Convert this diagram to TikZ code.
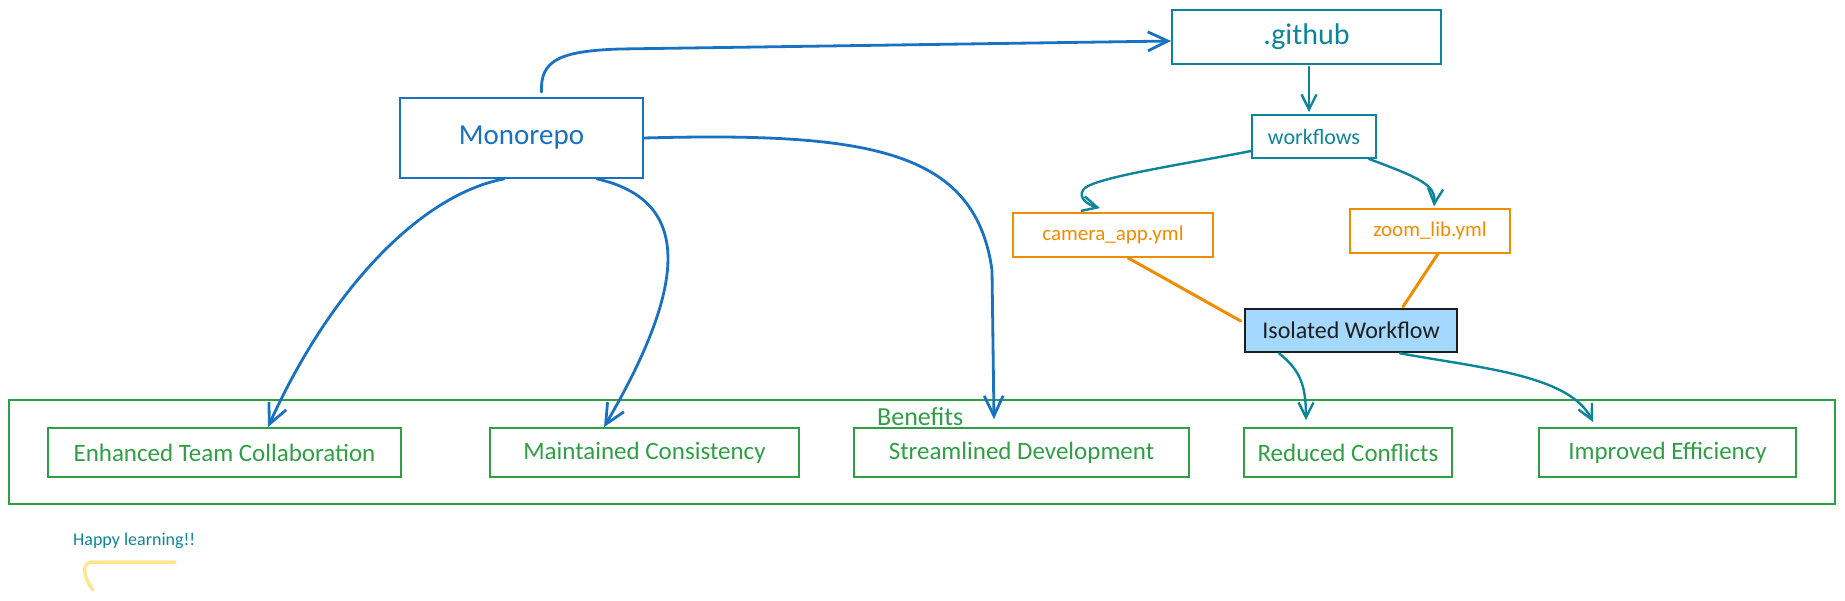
\documentclass[tikz,border=0pt]{standalone}
\usepackage{fontspec}
\setmainfont{Carlito}
\usetikzlibrary{arrows.meta}
\definecolor{cblue}{HTML}{1971C2}
\definecolor{cteal}{HTML}{0C8599}
\definecolor{corange}{HTML}{F08C00}
\definecolor{cgreen}{HTML}{2F9E44}
\definecolor{cfill}{HTML}{A5D8FF}
\definecolor{cblack}{HTML}{1E1E1E}
\definecolor{cyellow}{HTML}{FFE58F}
\newcommand{\fsz}[1]{\fontsize{#1}{#1}\selectfont}
\begin{document}
\begin{tikzpicture}[x=1pt,y=-1pt,
  box/.style={draw, rectangle, line width=1.8pt, inner sep=0pt},
  bluebox/.style={box, draw=cblue, text=cblue},
  tealbox/.style={box, draw=cteal, text=cteal},
  orangebox/.style={box, draw=corange, text=corange},
  greenbox/.style={box, draw=cgreen, text=cgreen, minimum height=49pt, font=\fsz{25}},
  bluearrow/.style={draw=cblue, line width=2.8pt, line cap=round, -{Straight Barb[length=20pt,width=19pt,line width=2.8pt]}},
  tealarrow/.style={draw=cteal, line width=2.4pt, line cap=round, -{Straight Barb[length=15pt,width=15pt,line width=2.4pt]}},
  orangeline/.style={draw=corange, line width=3pt, line cap=round}
]
\useasboundingbox (0,0) rectangle (1845,601);

% nodes
\node[bluebox, minimum width=243pt, minimum height=80pt, font=\fsz{29}] (mono) at (521.5,138) {Monorepo};
\node[tealbox, minimum width=269pt, minimum height=54pt, font=\fsz{30}] (github) at (1306.5,37) {.github};
\node[tealbox, minimum width=124pt, minimum height=43pt, font=\fsz{22}] (wf) at (1314,136.5) {workflows};
\node[orangebox, minimum width=200pt, minimum height=44pt, font=\fsz{21}] (camera) at (1113,235) {camera\_app.yml};
\node[orangebox, minimum width=160pt, minimum height=43.5pt, font=\fsz{21}] (zoom) at (1430,231) {zoom\_lib.yml};
\node[box, draw=cblack, fill=cfill, text=cblack, line width=2.6pt, minimum width=212pt, minimum height=43pt, font=\fsz{24}] (iso) at (1351,330.5) {Isolated Workflow};

\node[box, draw=cgreen, minimum width=1826pt, minimum height=104pt] (benefits) at (922,452) {};
\node[text=cgreen, font=\fsz{26}, anchor=north west, inner sep=0pt] (benlabel) at (877,407) {Benefits};

\node[greenbox, minimum width=353pt] (enh) at (224.5,452.5) {Enhanced Team Collaboration};
\node[greenbox, minimum width=309pt] (maint) at (644.5,452.5) {Maintained Consistency};
\node[greenbox, minimum width=335pt] (stream) at (1021.5,452.5) {Streamlined Development};
\node[greenbox, minimum width=208pt] (reduced) at (1348,452.5) {Reduced Conflicts};
\node[greenbox, minimum width=257pt] (improved) at (1667.5,452.5) {Improved Efficiency};

\node[text=cteal, font=\fsz{18}, anchor=west, inner sep=0pt] (happy) at (73,541) {Happy learning!!};
\draw[cyellow, line width=3.5pt, line cap=round] (175,562) -- (92,562) .. controls (82,563) and (82,575) .. (93,590);

% connectors
\draw[bluearrow] ([xshift=20pt,yshift=5pt]mono.north) .. controls (540,60) and (560,51) .. (620,49) -- ([yshift=-4pt]github.west);
\draw[bluearrow] (mono.east) .. controls (870,132) and (975,150) .. (992,270) -- ([xshift=-27.5pt,yshift=8pt]stream.north);
\draw[bluearrow] ([xshift=-17.5pt]mono.south) .. controls (420,195) and (330,290) .. ([xshift=43.5pt]enh.north);
\draw[bluearrow] ([xshift=75.5pt]mono.south) .. controls (690,200) and (690,280) .. ([xshift=-40.5pt]maint.north);

\draw[tealarrow] ([xshift=2.5pt,yshift=-2pt]github.south) -- ([xshift=-5pt,yshift=2pt]wf.north);
\draw[tealarrow] ([yshift=-14.5pt]wf.west) .. controls (1180,165) and (1090,178) .. (1083,190) .. controls (1078,198) and (1088,205) .. ([xshift=-13pt,yshift=4pt]camera.north);
\draw[tealarrow] ([xshift=-8pt]wf.south east) .. controls (1420,178) and (1436,185) .. ([xshift=4pt,yshift=2pt]zoom.north);

\draw[orangeline] ([xshift=15pt]camera.south) -- ([xshift=-3pt,yshift=9.5pt]iso.west);
\draw[orangeline] ([xshift=8pt]zoom.south) -- ([xshift=52pt,yshift=1pt]iso.north);

\draw[tealarrow] ([xshift=-72pt]iso.south) .. controls (1300,370) and (1306,385) .. ([xshift=-42pt,yshift=7pt]reduced.north);
\draw[tealarrow] ([xshift=49pt]iso.south) .. controls (1480,368) and (1570,375) .. ([xshift=-74.5pt,yshift=5pt]improved.north);
\end{tikzpicture}
\end{document}
